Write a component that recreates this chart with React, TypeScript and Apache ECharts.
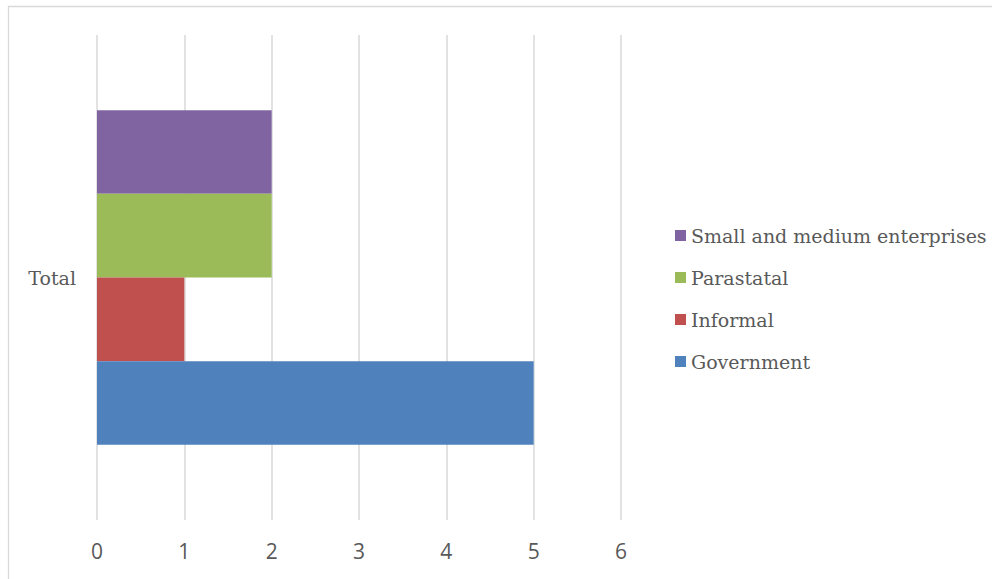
import React, { useEffect, useRef } from "react";
import * as echarts from "echarts";

const categories = ["Total"];
const seriesNames = ["Small and medium enterprises", "Parastatal", "Informal", "Government"];
const smeValues = [2];
const parastatalValues = [2];
const informalValues = [1];
const governmentValues = [5];
const seriesColors = ["#8064a2", "#9bbb59", "#c0504d", "#4f81bd"];
const legendOrder = ["Small and medium enterprises", "Parastatal", "Informal", "Government"];

const SERIF = "DejaVu Serif";

export default function App() {
  const ref = useRef<HTMLDivElement>(null);
  useEffect(() => {
    if (!ref.current) return;
    const chart = echarts.init(ref.current, null, { renderer: "svg" });
    const values = [smeValues, parastatalValues, informalValues, governmentValues];
    chart.setOption({
      animation: false,
      backgroundColor: "#ffffff",
      graphic: [
        {
          type: "rect",
          shape: { x: 8.5, y: 6.5, width: 1200, height: 800 },
          style: { fill: "none", stroke: "#d9d9d9", lineWidth: 1.3 },
          silent: true,
        },
      ],
      grid: { left: 97, top: 35, width: 524, height: 485, containLabel: false },
      legend: {
        orient: "vertical",
        left: 670,
        top: 221,
        data: legendOrder,
        icon: "rect",
        itemWidth: 11,
        itemHeight: 11,
        itemGap: 23,
        textStyle: { color: "#595959", fontFamily: SERIF, fontSize: 19 },
      },
      xAxis: {
        type: "value",
        min: 0,
        max: 6,
        interval: 1,
        axisLine: { show: false },
        axisTick: { show: false },
        splitLine: { show: true, lineStyle: { color: "#d9d9d9", width: 1.5 } },
        axisLabel: { color: "#595959", fontFamily: "Open Sans", fontSize: 21, margin: 20 },
      },
      yAxis: {
        type: "category",
        data: categories,
        axisLine: { show: false },
        axisTick: { show: false },
        axisLabel: { color: "#595959", fontFamily: SERIF, fontSize: 19, margin: 21 },
      },
      series: seriesNames.map((name, i) => ({
        name,
        type: "bar",
        data: values[i],
        barGap: "0%",
        barCategoryGap: "31%",
        itemStyle: { color: seriesColors[i] },
      })),
    });
    return () => chart.dispose();
  }, []);
  return <div ref={ref} style={{ position: "fixed", left: 0, top: 0, width: 992, height: 579 }} />;
}
